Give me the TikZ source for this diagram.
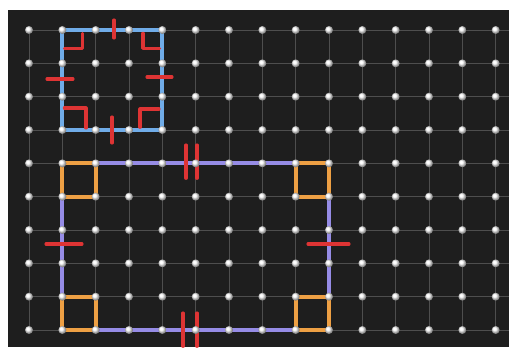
\documentclass[tikz,border=0pt]{standalone}
\usetikzlibrary{calc}

\definecolor{board}{RGB}{30,30,30}
\definecolor{wire}{RGB}{78,78,78}
\definecolor{sqblue}{RGB}{112,172,232}
\definecolor{rectpurple}{RGB}{150,140,230}
\definecolor{cornerorange}{RGB}{238,160,68}
\definecolor{markred}{RGB}{222,52,52}

\begin{document}
\begin{tikzpicture}[line cap = round, line join = round]
\tikzstyle{peg}=[ball color=white, circle, inner sep=0pt, minimum size=0.24cm]
\tikzstyle{gridline}=[draw=wire, line width=0.7pt]
\tikzstyle{bluesq}=[draw=sqblue, line width=3.3pt]
\tikzstyle{purplerect}=[draw=rectpurple, line width=3.3pt]
\tikzstyle{rightsq}=[draw=cornerorange, line width=3.3pt]
\tikzstyle{redmark}=[draw=markred, line width=2.6pt]

\useasboundingbox (-0.87,0.9) rectangle (14.4,-9.51);
\fill[board] (-0.63,0.6) rectangle (14.4,-9.51);

% wires of the board
\foreach \y in {0,...,9} \draw[gridline] (0,-\y) -- (14.4,-\y);
\foreach \x in {0,...,14} \draw[gridline] (\x,0) -- (\x,-9);

% the square
\coordinate (S1) at (1,0);
\coordinate (S2) at (4,0);
\coordinate (S3) at (4,-3);
\coordinate (S4) at (1,-3);
\draw[bluesq] (S1) -- (S2) -- (S3) -- (S4) -- cycle;

% the rectangle
\coordinate (R1) at (1,-4);
\coordinate (R2) at (9,-4);
\coordinate (R3) at (9,-9);
\coordinate (R4) at (1,-9);
\draw[purplerect] (R1) -- (R2) -- (R3) -- (R4) -- cycle;
\draw[rightsq] (R1) rectangle ++(1,-1);
\draw[rightsq] (R2) rectangle ++(-1,-1);
\draw[rightsq] (R3) rectangle ++(-1,1);
\draw[rightsq] (R4) rectangle ++(1,1);

% right angles of the square
\draw[redmark] ($(S1)+(0.06,-0.55)$) -- ++(0.54,0) -- ++(0,0.45);
\draw[redmark] ($(S2)+(-0.58,-0.1)$) -- ++(0,-0.45) -- ++(0.5,0);
\draw[redmark] ($(S4)+(0.06,0.66)$) -- ++(0.65,0) -- ++(0,-0.6);
\draw[redmark] ($(S3)+(-0.67,0.08)$) -- ++(0,0.55) -- ++(0.57,0);

% equal sides of the square
\coordinate (Mtop) at ($ (S1) !.5! (S2) $);
\coordinate (Mright) at ($ (S2) !.5! (S3) $);
\coordinate (Mbot) at ($ (S3) !.5! (S4) $);
\coordinate (Mleft) at ($ (S4) !.5! (S1) $);
\draw[redmark] ($(Mtop)+(0.05,0.3)$) -- ++(0,-0.54);
\draw[redmark] ($(Mright)+(-0.46,0.09)$) -- ++(0.75,0);
\draw[redmark] ($(Mbot)+(-0.01,0.39)$) -- ++(0,-0.78);
\draw[redmark] ($(Mleft)+(-0.46,0.03)$) -- ++(0.78,0);

% equal sides of the rectangle
\coordinate (Ntop) at ($ (R1) !.5! (R2) $);
\coordinate (Nright) at ($ (R2) !.5! (R3) $);
\coordinate (Nbot) at ($ (R3) !.5! (R4) $);
\coordinate (Nleft) at ($ (R4) !.5! (R1) $);
\draw[redmark] ($(Ntop)+(-0.29,0.55)$) -- ++(0,-1);
\draw[redmark] ($(Ntop)+(0.04,0.55)$) -- ++(0,-1);
\draw[redmark] ($(Nbot)+(-0.38,0.51)$) -- ++(0,-1);
\draw[redmark] ($(Nbot)+(0.04,0.51)$) -- ++(0,-1);
\draw[redmark] ($(Nleft)+(-0.49,0.08)$) -- ++(1.08,0);
\draw[redmark] ($(Nright)+(-0.63,0.08)$) -- ++(1.23,0);

% pegs
\foreach \x in {0,...,14}
  \foreach \y in {0,...,9}
    \node[peg] (p-\x-\y) at (\x,-\y) {};
\end{tikzpicture}
\end{document}
